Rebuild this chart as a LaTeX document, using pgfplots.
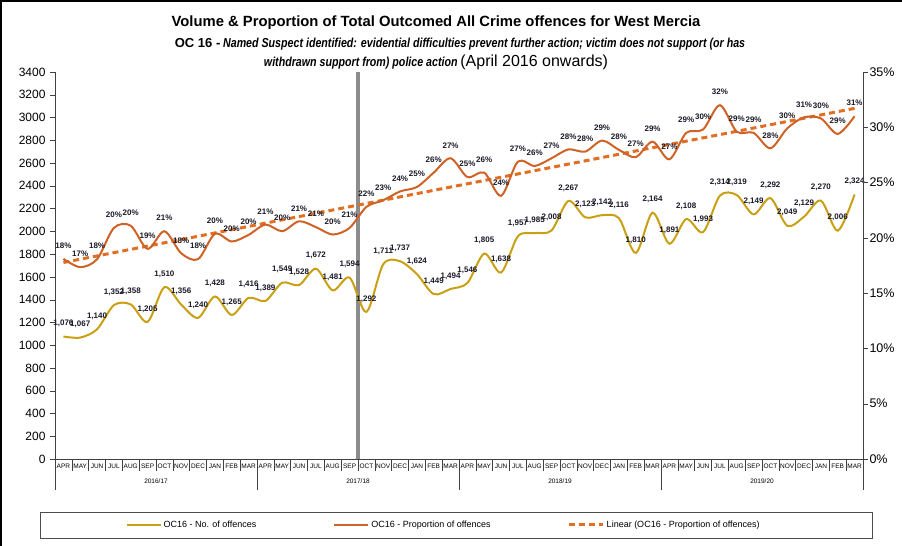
\documentclass[border=0pt]{standalone}
\usepackage{fontspec}
\setmainfont{Liberation Sans}
\usepackage{pgfplots}
\usepackage{pgfplotstable}
\pgfplotsset{compat=1.18}
\definecolor{gold}{RGB}{201,160,20}
\definecolor{rust}{RGB}{207,98,38}
\definecolor{trendc}{RGB}{224,110,35}
\definecolor{lab}{RGB}{25,25,40}

% x = month index from Apr 2016, n = offences, p = proportion (%), pl = label
\pgfplotstableread{
x n p pl
0 1076 18.1 18
1 1067 17.35 17
2 1140 18.07 18
3 1352 20.9 20
4 1358 21.1 20
5 1205 19.0 19
6 1510 20.6 21
7 1356 18.6 18
8 1240 18.07 18
9 1428 20.36 20
10 1265 19.67 20
11 1416 20.27 20
12 1389 21.2 21
13 1549 20.6 20
14 1528 21.5 21
15 1672 20.97 21
16 1481 20.3 20
17 1594 20.9 21
18 1292 22.8 22
19 1711 23.4 23
20 1737 24.2 24
21 1624 24.6 25
22 1449 25.9 26
23 1494 27.2 27
24 1546 25.5 25
25 1805 25.9 26
26 1638 23.8 24
27 1957 26.9 27
28 1985 26.5 26
29 2008 27.2 27
30 2267 28.0 28
31 2123 27.8 28
32 2142 28.8 29
33 2116 27.96 28
34 1810 27.3 27
35 2164 28.7 29
36 1891 27.1 27
37 2108 29.5 29
38 1993 29.8 30
39 2314 32.0 32
40 2319 29.6 29
41 2149 29.5 29
42 2292 28.1 28
43 2049 29.9 30
44 2129 30.9 31
45 2270 30.8 30
46 2006 29.4 29
47 2324 31.0 31
}\data

\begin{document}
\begin{tikzpicture}
\useasboundingbox (0,0) rectangle (902pt,546pt);
\draw[line width=1.5pt] (1pt,0) -- (1pt,545pt) -- (902pt,545pt);

\node[font=\bfseries\fontsize{14.8}{16}\selectfont] at (436pt,523pt)
  {Volume \& Proportion of Total Outcomed All Crime offences for West Mercia};
\node at (460pt,502pt) {{\bfseries\fontsize{13}{14}\selectfont OC 16 -}
  \scalebox{0.82}[1]{\bfseries\itshape\fontsize{13}{14}\selectfont Named Suspect identified: evidential difficulties prevent further action; victim does not support (or has}};
\node at (436pt,484pt) {\scalebox{0.82}[1]{\bfseries\itshape\fontsize{13}{14}\selectfont withdrawn support from) police action}
  {\fontsize{16}{17}\selectfont (April 2016 onwards)}};

\draw[black!70] (40pt,8pt) rectangle (872pt,34pt);

\begin{axis}[
  at={(55pt,87pt)}, anchor=south west, scale only axis,
  width=808pt, height=387pt,
  xmin=-0.5, xmax=47.5, ymin=0, ymax=3400,
  axis y line*=left, axis x line*=bottom,
  axis line style={-, black!75},
  /pgf/number format/assume math mode=true,
  /pgf/number format/1000 sep={},
  ytick={0,200,...,3400},
  yticklabel style={font=\fontsize{12}{13}\selectfont, xshift=-1pt},
  tick align=outside, major tick length=5pt,
  tick style={black!75},
  xtick={-0.5,0.5,...,47.5},
  x tick label as interval,
  xtick style={draw=none},
  xticklabels={APR,MAY,JUN,JUL,AUG,SEP,OCT,NOV,DEC,JAN,FEB,MAR,
               APR,MAY,JUN,JUL,AUG,SEP,OCT,NOV,DEC,JAN,FEB,MAR,
               APR,MAY,JUN,JUL,AUG,SEP,OCT,NOV,DEC,JAN,FEB,MAR,
               APR,MAY,JUN,JUL,AUG,SEP,OCT,NOV,DEC,JAN,FEB,MAR},
  xticklabel style={font=\fontsize{6.5}{7}\selectfont, inner sep=1pt, yshift=1pt},
  clip=false,
  legend columns=3,
  legend style={at={(0.481,-0.1705)}, anchor=center, draw=none, fill=none,
    font=\fontsize{9}{10}\selectfont,
    /tikz/every even column/.append style={column sep=75pt}},
  legend image code/.code={\draw[#1] (0pt,0pt) -- (34pt,0pt);},
]
\draw[black!45, line width=3.5pt] (axis cs:17.5,0) -- (axis cs:17.5,3400);
\foreach \i in {-0.5,0.5,...,47.5} {
  \edef\tmp{\noexpand\draw[black!75] (axis cs:\i,0) -- ([yshift=-12pt]axis cs:\i,0);}\tmp
}
\draw[black!75] (axis cs:-0.5,0) -- ([yshift=-31pt]axis cs:-0.5,0);
\draw[black!75] (axis cs:11.5,0) -- ([yshift=-31pt]axis cs:11.5,0);
\draw[black!75] (axis cs:23.5,0) -- ([yshift=-31pt]axis cs:23.5,0);
\draw[black!75] (axis cs:35.5,0) -- ([yshift=-31pt]axis cs:35.5,0);
\draw[black!75] (axis cs:47.5,0) -- ([yshift=-31pt]axis cs:47.5,0);
\node[font=\fontsize{6.5}{7}\selectfont] at ([yshift=-22pt]axis cs:5.5,0) {2016/17};
\node[font=\fontsize{6.5}{7}\selectfont] at ([yshift=-22pt]axis cs:17.5,0) {2017/18};
\node[font=\fontsize{6.5}{7}\selectfont] at ([yshift=-22pt]axis cs:29.5,0) {2018/19};
\node[font=\fontsize{6.5}{7}\selectfont] at ([yshift=-22pt]axis cs:41.5,0) {2019/20};

\addplot[gold, line width=2pt, smooth, no marks,
  point meta=y,
  nodes near coords={\pgfmathprintnumber[1000 sep={,}]{\pgfplotspointmeta}},
  every node near coord/.append style={anchor=center, yshift=13pt,
    text=lab, font=\bfseries\fontsize{8}{9}\selectfont}]
  table[x=x, y=n] {\data};
\addlegendentry{OC16 - No. of offences}
\addlegendimage{rust, line width=2pt}
\addlegendentry{OC16 - Proportion of offences}
\addlegendimage{trendc, line width=3pt, dash pattern=on 6pt off 4pt}
\addlegendentry{Linear (OC16 - Proportion of offences)}
\end{axis}

\begin{axis}[
  at={(55pt,87pt)}, anchor=south west, scale only axis,
  width=808pt, height=387pt,
  xmin=-0.5, xmax=47.5, ymin=0, ymax=35,
  axis y line*=right, axis x line=none,
  axis line style={-, black!75},
  /pgf/number format/assume math mode=true,
  ytick={0,5,...,35},
  yticklabel={\pgfmathprintnumber{\tick}\%},
  yticklabel style={font=\fontsize{12.5}{13}\selectfont, xshift=-2pt},
  tick align=outside, major tick length=5pt,
  tick style={black!75},
  clip=false,
]
\addplot[trendc, line width=3pt, dash pattern=on 6pt off 4pt, no marks]
  table[x=x, y={create col/linear regression={y=p}}] {\data};
\addplot[rust, line width=2pt, smooth, no marks,
  point meta=explicit,
  nodes near coords={\pgfmathprintnumber{\pgfplotspointmeta}\%},
  every node near coord/.append style={anchor=center, yshift=13pt,
    text=lab, font=\bfseries\fontsize{8}{9}\selectfont}]
  table[x=x, y=p, meta=pl] {\data};
\end{axis}
\end{tikzpicture}
\end{document}
